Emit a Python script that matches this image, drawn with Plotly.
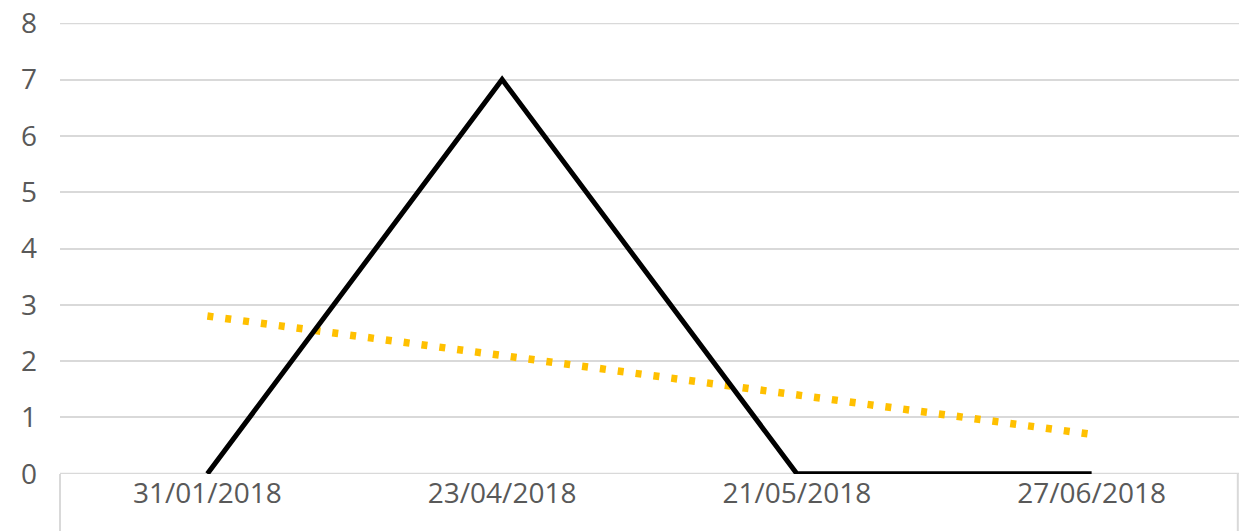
import numpy as np
import plotly.graph_objects as go

categories = ["31/01/2018", "23/04/2018", "21/05/2018", "27/06/2018"]
values = [0, 7, 0, 0]
y_ticks = [0, 1, 2, 3, 4, 5, 6, 7, 8]

# linear trendline (as Excel computes it) over category index
idx = np.arange(1, len(values) + 1)
slope, intercept = np.polyfit(idx, values, 1)
trend_x = [categories[0], categories[-1]]
trend_y = [slope * idx[0] + intercept, slope * idx[-1] + intercept]

GRID = "#D9D9D9"

fig = go.Figure()
fig.add_trace(go.Scatter(
    x=trend_x, y=trend_y, mode="lines",
    line=dict(color="#FFC000", width=7.5, dash="6px,12px"),
    showlegend=False, hoverinfo="skip"))
fig.add_trace(go.Scatter(
    x=categories, y=values, mode="lines",
    line=dict(color="#000000", width=5),
    showlegend=False))

fig.update_layout(
    width=1245, height=531,
    margin=dict(l=60, r=6, t=23, b=57, autoexpand=False),
    paper_bgcolor="white", plot_bgcolor="white",
    font=dict(family="Open Sans", size=28, color="#595959"),
    xaxis=dict(type="category", categoryorder="array", categoryarray=categories,
               range=[-0.5, len(categories) - 0.5], showgrid=False,
               showline=False, zeroline=False, ticks="", ticklen=0,
               automargin=False, ticklabeloverflow="allow",
               tickfont=dict(size=28, color="#595959")),
    yaxis=dict(range=[-0.004, 8.004], tickvals=y_ticks, showgrid=True,
               gridcolor=GRID, gridwidth=1.5, zeroline=False,
               showline=False, ticks="", ticklabelstandoff=22,
               automargin=False, ticklabeloverflow="allow",
               tickfont=dict(size=28, color="#595959")),
    shapes=[
        dict(type="line", xref="paper", yref="y", x0=0, x1=1, y0=y_ticks[-1], y1=y_ticks[-1],
             line=dict(color=GRID, width=2), layer="below"),
        dict(type="line", xref="paper", yref="y", x0=0, x1=1, y0=y_ticks[0], y1=y_ticks[0],
             line=dict(color=GRID, width=2), layer="below"),
        dict(type="line", xref="paper", yref="paper", x0=0, x1=0, y0=0, y1=-0.3,
             line=dict(color=GRID, width=2)),
        dict(type="line", xref="paper", yref="paper", x0=0.999, x1=0.999, y0=0, y1=-0.3,
             line=dict(color=GRID, width=2)),
    ],
)
fig.write_html(
    "out.html",
    config={"displayModeBar": False},
    post_script="document.body.style.margin='0';document.body.style.overflow='hidden';",
)
